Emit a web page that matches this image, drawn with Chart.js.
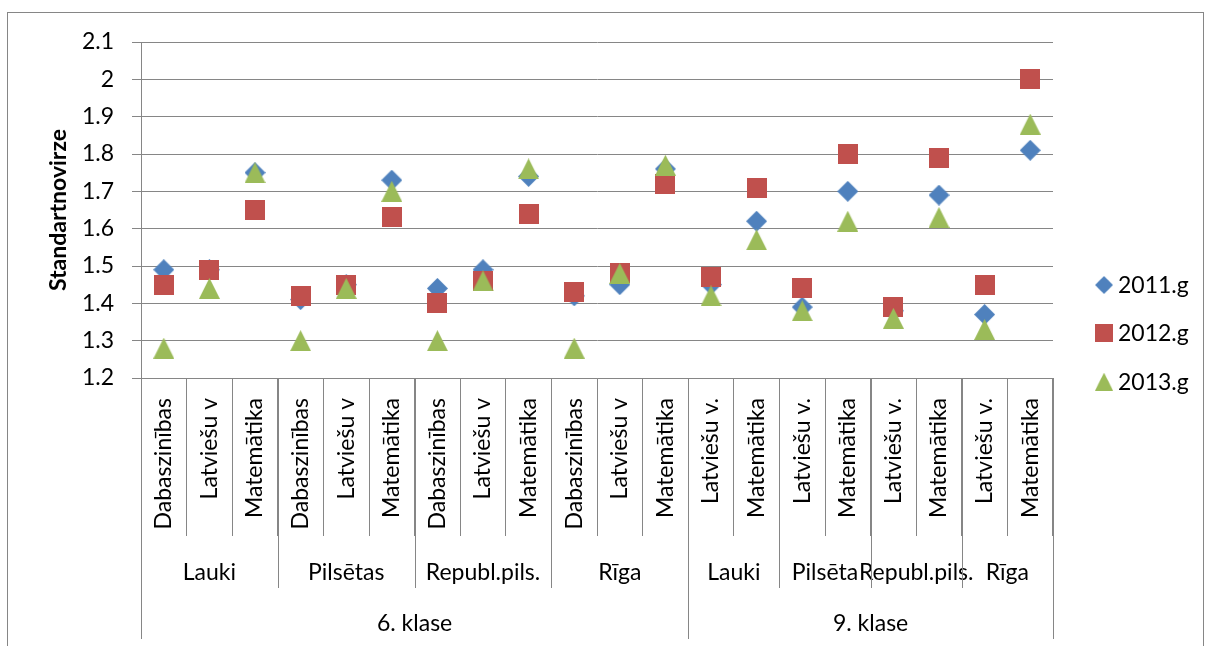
<!DOCTYPE html>
<html>
<head>
<meta charset="utf-8">
<script src="https://cdn.jsdelivr.net/npm/chart.js@4.4.0/dist/chart.umd.min.js"></script>
<style>
  html, body { margin: 0; padding: 0; background: #fff; }
  canvas { display: block; }
</style>
</head>
<body>
<canvas id="chart" width="1208" height="646"></canvas>
<script>
// Categories: subject per column, then region and class groups below it
const subjects = [
    'Dabaszinības', 'Latviešu v', 'Matemātika',
    'Dabaszinības', 'Latviešu v', 'Matemātika',
    'Dabaszinības', 'Latviešu v', 'Matemātika',
    'Dabaszinības', 'Latviešu v', 'Matemātika',
    'Latviešu v.', 'Matemātika',
    'Latviešu v.', 'Matemātika',
    'Latviešu v.', 'Matemātika',
    'Latviešu v.', 'Matemātika'
];
const regionNames = ['Lauki', 'Pilsētas', 'Republ.pils.', 'Rīga', 'Lauki', 'Pilsēta', 'Republ.pils.', 'Rīga'];
const regionSizes = [3, 3, 3, 3, 2, 2, 2, 2];
const classNames = ['6. klase', '9. klase'];
const classSizes = [12, 8];

// Series
const seriesNames = ['2011.g', '2012.g', '2013.g'];
const values2011 = [1.49, 1.49, 1.75, 1.41, 1.45, 1.73, 1.44, 1.49, 1.74, 1.42, 1.45, 1.76, 1.45, 1.62, 1.39, 1.70, 1.38, 1.69, 1.37, 1.81];
const values2012 = [1.45, 1.49, 1.65, 1.42, 1.45, 1.63, 1.40, 1.46, 1.64, 1.43, 1.48, 1.72, 1.47, 1.71, 1.44, 1.80, 1.39, 1.79, 1.45, 2.00];
const values2013 = [1.28, 1.44, 1.75, 1.30, 1.44, 1.70, 1.30, 1.46, 1.76, 1.28, 1.48, 1.77, 1.42, 1.57, 1.38, 1.62, 1.36, 1.63, 1.33, 1.88];

// Value axis
const yMin = 1.2;
const yMax = 2.1;
const yStep = 0.1;
const yTitle = 'Standartnovirze';

const LINE = '#868686';
const FONT = 'Lato, "Open Sans", sans-serif';
const FONT_SIZE = 23;

// marker images so each shape is centred on its value
function makeMarker(shape, color, size) {
    const c = document.createElement('canvas');
    c.width = size;
    c.height = size;
    const g = c.getContext('2d');
    g.fillStyle = color;
    g.beginPath();
    if (shape === 'diamond') {
        g.moveTo(size / 2, 0);
        g.lineTo(size, size / 2);
        g.lineTo(size / 2, size);
        g.lineTo(0, size / 2);
    } else if (shape === 'square') {
        g.rect(0, 0, size, size);
    } else {
        g.moveTo(size / 2, 0);
        g.lineTo(size, size);
        g.lineTo(0, size);
    }
    g.closePath();
    g.fill();
    return c;
}

const markers = [
    makeMarker('diamond', '#4F81BD', 21),
    makeMarker('square', '#C0504D', 20),
    makeMarker('triangle', '#9BBB59', 21)
];

const axisDecor = {
    id: 'axisDecor',
    beforeDraw(chart) {
        const ctx = chart.ctx;
        ctx.save();
        ctx.fillStyle = '#fff';
        ctx.fillRect(0, 0, chart.width, chart.height);
        ctx.strokeStyle = LINE;
        ctx.lineWidth = 1;
        ctx.strokeRect(7.5, 12.5, 1196, 700);
        ctx.restore();
    },
    afterDraw(chart) {
        const { ctx, chartArea } = chart;
        const x = chart.scales.x;
        const step = x.getPixelForValue(1) - x.getPixelForValue(0);
        const edge = i => x.getPixelForValue(i) - step / 2;
        const axisY = chartArea.bottom;

        ctx.save();
        ctx.font = FONT_SIZE + 'px ' + FONT;
        ctx.fillStyle = '#000';

        // rotated subject names
        subjects.forEach((s, i) => {
            ctx.save();
            ctx.translate(x.getPixelForValue(i), axisY + 20);
            ctx.rotate(-Math.PI / 2);
            ctx.textAlign = 'right';
            ctx.textBaseline = 'middle';
            ctx.fillText(s, 0, 0);
            ctx.restore();
        });

        const drawGroups = (names, sizes, lineLen, textY) => {
            let start = 0;
            ctx.strokeStyle = LINE;
            ctx.lineWidth = 1;
            ctx.textAlign = 'center';
            ctx.textBaseline = 'alphabetic';
            names.forEach((name, k) => {
                const l = edge(start);
                const r = edge(start + sizes[k]);
                ctx.fillText(name, (l + r) / 2, axisY + textY);
                [l, r].forEach(px => {
                    const xx = Math.round(px) + 0.5;
                    ctx.beginPath();
                    ctx.moveTo(xx, axisY);
                    ctx.lineTo(xx, axisY + lineLen);
                    ctx.stroke();
                });
                start += sizes[k];
            });
        };
        drawGroups(regionNames, regionSizes, 210, 202);
        drawGroups(classNames, classSizes, 261, 253);

        // legend at the right
        ctx.textAlign = 'left';
        ctx.textBaseline = 'alphabetic';
        chart.data.datasets.forEach((ds, i) => {
            const cy = 285 + i * 48.3;
            ctx.drawImage(ds.pointStyle, 1095, cy - 9, 18, 18);
            ctx.fillText(ds.label, 1118, cy + 8);
        });
        ctx.restore();
    }
};

new Chart(document.getElementById('chart'), {
    type: 'line',
    data: {
        labels: subjects,
        datasets: [
            { label: seriesNames[0], data: values2011, pointStyle: markers[0], order: 3 },
            { label: seriesNames[1], data: values2012, pointStyle: markers[1], order: 2 },
            { label: seriesNames[2], data: values2013, pointStyle: markers[2], order: 1 }
        ].map(ds => Object.assign(ds, { showLine: false, pointRadius: 10, pointHoverRadius: 10 }))
    },
    options: {
        responsive: false,
        animation: false,
        devicePixelRatio: 1,
        layout: { padding: { left: 0, right: 155, top: 42, bottom: 0 } },
        plugins: {
            legend: { display: false },
            tooltip: { enabled: false }
        },
        scales: {
            x: {
                type: 'category',
                offset: true,
                grid: {
                    offset: true,
                    drawOnChartArea: false,
                    drawTicks: true,
                    tickLength: 158,
                    color: LINE
                },
                border: { display: true, color: LINE },
                ticks: { display: false },
                afterFit: s => { s.height = 268; }
            },
            y: {
                min: yMin,
                max: yMax,
                grid: { color: LINE, tickLength: 9 },
                border: { display: true, color: LINE },
                ticks: {
                    stepSize: yStep,
                    padding: 18,
                    color: '#000',
                    font: { family: FONT, size: FONT_SIZE },
                    callback: v => String(+v.toFixed(1))
                },
                title: {
                    display: true,
                    text: yTitle,
                    color: '#000',
                    font: { family: FONT, size: FONT_SIZE, weight: 'bold' },
                    padding: { top: 45, bottom: 0 }
                },
                afterFit: s => { s.width = 141; }
            }
        }
    },
    plugins: [axisDecor]
});
</script>
</body>
</html>
